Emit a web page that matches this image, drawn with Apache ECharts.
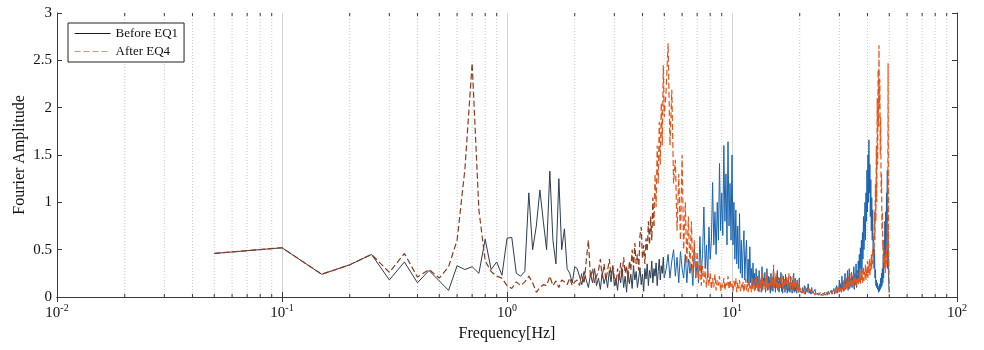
<!DOCTYPE html>
<html>
<head>
<meta charset="utf-8">
<script src="https://cdn.jsdelivr.net/npm/echarts@6/dist/echarts.min.js"></script>
<style>
  html, body { margin: 0; padding: 0; background: #fff; }
  #chart { width: 984px; height: 350px; }
</style>
</head>
<body>
<div id="chart"></div>
<script>
// Fourier amplitude spectra, before EQ1 and after EQ4.
// Frequency grid: 0.05 Hz steps up to 5 Hz, 0.1 Hz to 20 Hz, 0.2 Hz to 50 Hz.
const freqLow = [];
for (let i = 1; i <= 100; i++) freqLow.push(+(0.05 * i).toFixed(2));
const freqMid = [];
for (let i = 51; i <= 200; i++) freqMid.push(+(0.1 * i).toFixed(1));
const freqHigh = [];
for (let i = 101; i <= 250; i++) freqHigh.push(+(0.2 * i).toFixed(1));

// Before EQ1 amplitudes
const beforeLow = [
  0.46, 0.52, 0.24, 0.34, 0.45, 0.18, 0.37, 0.15, 0.28, 0.17,
  0.07, 0.33, 0.29, 0.32, 0.25, 0.61, 0.29, 0.37, 0.23, 0.62,
  0.63, 0.25, 0.22, 0.27, 1.1, 0.5, 0.75, 1.13, 0.8, 0.5,
  1.33, 0.6, 0.35, 1.25, 0.5, 0.72, 0.3, 0.25, 0.15, 0.32,
  0.3, 0.22, 0.13, 0.27, 0.18, 0.1, 0.24, 0.15, 0.3, 0.12,
  0.2, 0.08, 0.26, 0.14, 0.22, 0.1, 0.28, 0.16, 0.33, 0.12,
  0.2, 0.07, 0.25, 0.15, 0.3, 0.1, 0.22, 0.05, 0.28, 0.14,
  0.24, 0.09, 0.32, 0.18, 0.27, 0.1, 0.2, 0.31, 0.13, 0.24,
  0.06, 0.3, 0.19, 0.35, 0.12, 0.28, 0.2, 0.38, 0.15, 0.3,
  0.22, 0.36, 0.12, 0.27, 0.4, 0.18, 0.33, 0.25, 0.42, 0.2
];
const beforeMid = [
  0.3, 0.45, 0.2, 0.38, 0.5, 0.22, 0.42, 0.15, 0.48, 0.3,
  0.2, 0.45, 0.15, 0.4, 0.25, 0.35, 0.12, 0.53, 0.2, 0.38,
  0.15, 0.64, 0.25, 0.45, 0.95, 0.3, 0.55, 0.2, 0.74, 0.4,
  0.6, 1.21, 0.55, 0.9, 0.45, 1.0, 0.6, 1.41, 0.7, 1.1,
  0.65, 1.6, 0.8, 1.3, 0.55, 1.64, 0.75, 1.2, 0.6, 1.5,
  0.55, 1.0, 0.4, 0.92, 0.35, 0.75, 0.3, 0.88, 0.25, 0.6,
  0.2, 0.5, 0.7, 0.18, 0.45, 0.6, 0.15, 0.4, 0.12, 0.53,
  0.15, 0.3, 0.1, 0.36, 0.12, 0.25, 0.08, 0.3, 0.1, 0.22,
  0.06, 0.28, 0.1, 0.18, 0.05, 0.32, 0.08, 0.2, 0.12, 0.26,
  0.05, 0.15, 0.3, 0.07, 0.22, 0.1, 0.18, 0.04, 0.25, 0.09,
  0.2, 0.06, 0.3, 0.1, 0.16, 0.05, 0.22, 0.12, 0.28, 0.07,
  0.17, 0.05, 0.2, 0.1, 0.26, 0.06, 0.14, 0.04, 0.22, 0.09,
  0.16, 0.05, 0.24, 0.08, 0.18, 0.04, 0.12, 0.2, 0.06, 0.15,
  0.05, 0.22, 0.08, 0.14, 0.04, 0.18, 0.07, 0.25, 0.05, 0.12,
  0.2, 0.06, 0.15, 0.04, 0.18, 0.08, 0.13, 0.05, 0.2, 0.07
];
const beforeHigh = [
  0.08, 0.04, 0.1, 0.05, 0.12, 0.03, 0.09, 0.05, 0.14, 0.04,
  0.07, 0.03, 0.1, 0.04, 0.06, 0.02, 0.08, 0.03, 0.05, 0.02,
  0.04, 0.02, 0.05, 0.02, 0.03, 0.01, 0.04, 0.02, 0.05, 0.02,
  0.03, 0.05, 0.02, 0.06, 0.03, 0.04, 0.02, 0.07, 0.03, 0.05,
  0.04, 0.09, 0.03, 0.07, 0.05, 0.12, 0.04, 0.1, 0.06, 0.18,
  0.07, 0.14, 0.05, 0.22, 0.09, 0.16, 0.06, 0.13, 0.25, 0.08,
  0.18, 0.1, 0.28, 0.07, 0.15, 0.3, 0.09, 0.2, 0.12, 0.26,
  0.1, 0.22, 0.14, 0.32, 0.08, 0.25, 0.13, 0.35, 0.1, 0.28,
  0.15, 0.38, 0.2, 0.45, 0.18, 0.52, 0.3, 0.6, 0.25, 0.68,
  0.4, 0.85, 0.5, 0.75, 1.0, 0.6, 1.1, 0.8, 1.34, 0.9,
  1.5, 1.0, 1.66, 1.1, 1.4, 0.85, 1.24, 0.7, 1.05, 0.6,
  0.92, 0.45, 0.64, 0.3, 0.5, 0.2, 0.29, 0.12, 0.18, 0.1,
  0.15, 0.08, 0.12, 0.05, 0.1, 0.06, 0.14, 0.08, 0.2, 0.1,
  0.25, 0.12, 0.3, 0.15, 0.45, 0.2, 0.6, 0.35, 0.8, 0.4,
  0.9, 0.5, 1.1, 0.6, 1.34, 0.3, 0.7, 0.2, 0.1, 0.05
];

// After EQ4 amplitudes
const afterLow = [
  0.46, 0.52, 0.24, 0.34, 0.45, 0.26, 0.46, 0.21, 0.29, 0.2,
  0.32, 0.6, 1.35, 2.47, 0.92, 0.38, 0.27, 0.22, 0.2, 0.12,
  0.09, 0.16, 0.12, 0.16, 0.22, 0.15, 0.05, 0.1, 0.13, 0.12,
  0.22, 0.12, 0.17, 0.1, 0.18, 0.16, 0.13, 0.2, 0.12, 0.16,
  0.18, 0.12, 0.25, 0.14, 0.38, 0.6, 0.2, 0.3, 0.15, 0.22,
  0.28, 0.4, 0.2, 0.35, 0.18, 0.28, 0.4, 0.22, 0.33, 0.2,
  0.12, 0.3, 0.18, 0.36, 0.22, 0.42, 0.25, 0.33, 0.16, 0.38,
  0.28, 0.5, 0.3, 0.57, 0.35, 0.45, 0.28, 0.65, 0.74, 0.4,
  0.55, 0.35, 0.62, 0.48, 0.8, 0.55, 0.85, 0.6, 1.05, 0.75,
  1.3, 0.95, 1.6, 1.2, 1.85, 1.4, 2.05, 1.6, 2.45, 1.9
];
const afterMid = [
  2.2, 2.68, 1.6, 2.19, 1.2, 1.45, 0.7, 1.3, 0.6, 1.5,
  0.5, 1.0, 0.35, 0.85, 0.3, 0.8, 0.25, 0.6, 0.2, 0.48,
  0.18, 0.4, 0.12, 0.33, 0.15, 0.28, 0.1, 0.3, 0.12, 0.25,
  0.08, 0.2, 0.1, 0.24, 0.07, 0.18, 0.12, 0.22, 0.06, 0.15,
  0.1, 0.2, 0.07, 0.16, 0.12, 0.22, 0.08, 0.18, 0.1, 0.14,
  0.06, 0.17, 0.1, 0.2, 0.05, 0.15, 0.09, 0.18, 0.06, 0.13,
  0.08, 0.16, 0.05, 0.12, 0.19, 0.07, 0.14, 0.05, 0.17, 0.09,
  0.13, 0.05, 0.2, 0.08, 0.15, 0.06, 0.18, 0.1, 0.22, 0.07,
  0.15, 0.05, 0.22, 0.1, 0.18, 0.06, 0.25, 0.12, 0.17, 0.08,
  0.2, 0.1, 0.27, 0.09, 0.16, 0.06, 0.21, 0.12, 0.18, 0.07,
  0.22, 0.11, 0.34, 0.09, 0.2, 0.13, 0.25, 0.08, 0.17, 0.12,
  0.21, 0.07, 0.16, 0.1, 0.19, 0.13, 0.24, 0.08, 0.15, 0.11,
  0.2, 0.07, 0.17, 0.12, 0.22, 0.09, 0.18, 0.14, 0.26, 0.1,
  0.16, 0.08, 0.21, 0.12, 0.17, 0.07, 0.23, 0.11, 0.15, 0.09,
  0.19, 0.1, 0.14, 0.06, 0.18, 0.09, 0.12, 0.05, 0.15, 0.07
];
const afterHigh = [
  0.06, 0.1, 0.04, 0.08, 0.03, 0.11, 0.05, 0.07, 0.04, 0.09,
  0.05, 0.08, 0.03, 0.06, 0.04, 0.07, 0.02, 0.05, 0.03, 0.06,
  0.02, 0.04, 0.03, 0.05, 0.02, 0.03, 0.04, 0.02, 0.05, 0.03,
  0.04, 0.02, 0.05, 0.03, 0.06, 0.03, 0.05, 0.04, 0.07, 0.03,
  0.06, 0.04, 0.08, 0.05, 0.1, 0.04, 0.09, 0.06, 0.12, 0.05,
  0.1, 0.07, 0.15, 0.06, 0.12, 0.09, 0.18, 0.07, 0.14, 0.1,
  0.2, 0.08, 0.16, 0.11, 0.22, 0.09, 0.17, 0.13, 0.25, 0.1,
  0.18, 0.12, 0.24, 0.09, 0.2, 0.14, 0.27, 0.11, 0.19, 0.15,
  0.26, 0.12, 0.22, 0.16, 0.3, 0.13, 0.24, 0.18, 0.28, 0.15,
  0.22, 0.32, 0.17, 0.27, 0.2, 0.35, 0.18, 0.3, 0.22, 0.38,
  0.2, 0.33, 0.25, 0.4, 0.22, 0.36, 0.28, 0.45, 0.3, 0.42,
  0.5, 0.35, 0.64, 0.45, 0.9, 0.6, 1.2, 0.8, 1.6, 1.0,
  2.1, 1.4, 2.4, 1.8, 2.66, 2.0, 2.3, 1.5, 1.9, 1.1,
  1.3, 0.7, 0.9, 0.5, 0.6, 0.35, 0.5, 0.3, 0.45, 0.25,
  0.4, 0.3, 0.55, 0.35, 0.8, 0.5, 2.47, 0.6, 0.3, 0.05
];

// Minor (2..9 per decade) grid positions on the frequency axis
const minorTicks = [
  0.02, 0.03, 0.04, 0.05, 0.06, 0.07, 0.08, 0.09,
  0.2, 0.3, 0.4, 0.5, 0.6, 0.7, 0.8, 0.9,
  2, 3, 4, 5, 6, 7, 8, 9,
  20, 30, 40, 50, 60, 70, 80, 90
];

const seriesNames = ['Before EQ1', 'After EQ4'];

const freq = freqLow.concat(freqMid, freqHigh);
const before = beforeLow.concat(beforeMid, beforeHigh);
const after = afterLow.concat(afterMid, afterHigh);
const pairs = (vals) => freq.map((f, i) => [f, vals[i]]);
const beforePts = pairs(before);
const afterPts = pairs(after);

// Split each trace where the spectrum becomes dense, so the dense part gets the brighter tone.
const beforeSplit = freq.indexOf(5.0);
const afterSplit = freq.indexOf(4.5);

const serif = "'Liberation Serif', 'Times New Roman', serif";
const axisColor = '#3a3a3a';

function minorGrid(params, api) {
  const x = api.coord([api.value(0), 0])[0];
  const cs = params.coordSys;
  const top = cs.y, bottom = cs.y + cs.height;
  return {
    type: 'group',
    children: [
      { type: 'line', shape: { x1: x, y1: top, x2: x, y2: bottom },
        style: { stroke: '#c8c8c8', lineWidth: 1, lineDash: [1, 2] } },
      { type: 'line', shape: { x1: x, y1: bottom, x2: x, y2: bottom - 3 },
        style: { stroke: axisColor, lineWidth: 1 } },
      { type: 'line', shape: { x1: x, y1: top, x2: x, y2: top + 3 },
        style: { stroke: axisColor, lineWidth: 1 } }
    ]
  };
}

const chart = echarts.init(document.getElementById('chart'), null, { renderer: 'canvas' });

const lineBase = { type: 'line', showSymbol: false, symbol: 'none', animation: false, silent: true };

chart.setOption({
  animation: false,
  backgroundColor: '#ffffff',
  grid: { left: 57, right: 27, top: 13, bottom: 53 },
  legend: {
    orient: 'vertical',
    left: 68, top: 23,
    padding: [4, 6, 4, 6],
    itemWidth: 36, itemHeight: 12, itemGap: 5,
    itemStyle: { opacity: 0 },
    borderColor: '#222', borderWidth: 1,
    backgroundColor: '#fff',
    textStyle: { fontFamily: serif, fontSize: 13, color: '#111' },
    data: [
      { name: seriesNames[0], lineStyle: { color: '#1c1c1c', width: 1 } },
      { name: seriesNames[1], lineStyle: { color: '#c99a6a', width: 1.2 } }
    ]
  },
  xAxis: [
    {
      type: 'log', logBase: 10, min: 0.01, max: 100,
      name: 'Frequency[Hz]', nameLocation: 'middle', nameGap: 29, nameMoveOverlap: false,
      nameTextStyle: { fontFamily: serif, fontSize: 16, color: '#111' },
      axisLine: { lineStyle: { color: axisColor, width: 1 } },
      axisTick: { inside: true, length: 5, lineStyle: { color: axisColor } },
      axisLabel: {
        margin: 6,
        formatter: (v) => '{b|10}{s|' + Math.round(Math.log10(v)) + '}',
        rich: {
          b: { fontFamily: serif, fontSize: 15, color: '#111' },
          s: { fontFamily: serif, fontSize: 10, color: '#111', padding: [0, 0, 10, 0] }
        }
      },
      splitLine: { show: true, lineStyle: { color: '#d2d2d2', width: 1 } }
    },
    {
      type: 'log', logBase: 10, min: 0.01, max: 100, position: 'top',
      axisLine: { lineStyle: { color: axisColor, width: 1 } },
      axisTick: { inside: true, length: 5, lineStyle: { color: axisColor } },
      axisLabel: { show: false },
      splitLine: { show: false }
    }
  ],
  yAxis: [
    {
      type: 'value', min: 0, max: 3, interval: 0.5,
      name: 'Fourier Amplitude', nameLocation: 'middle', nameGap: 29, nameMoveOverlap: false,
      nameTextStyle: { fontFamily: serif, fontSize: 16, color: '#111' },
      axisLine: { show: true, lineStyle: { color: axisColor, width: 1 } },
      axisTick: { show: true, inside: true, length: 5, lineStyle: { color: axisColor } },
      axisLabel: { fontFamily: serif, fontSize: 15, color: '#111', margin: 5 },
      splitLine: { show: false }
    },
    {
      type: 'value', min: 0, max: 3, interval: 0.5, position: 'right',
      axisLine: { show: true, lineStyle: { color: axisColor, width: 1 } },
      axisTick: { show: true, inside: true, length: 5, lineStyle: { color: axisColor } },
      axisLabel: { show: false },
      splitLine: { show: false }
    }
  ],
  series: [
    {
      type: 'custom', name: 'minor', silent: true, z: 1,
      renderItem: minorGrid,
      data: minorTicks.map((v) => [v, 0]),
      encode: { x: 0, y: 1 }
    },
    Object.assign({}, lineBase, {
      name: seriesNames[0], z: 3,
      data: beforePts.slice(0, beforeSplit + 1),
      itemStyle: { color: '#222' },
      lineStyle: { color: '#2b3d52', width: 1 }
    }),
    Object.assign({}, lineBase, {
      name: seriesNames[0], z: 3,
      data: beforePts.slice(beforeSplit),
      itemStyle: { color: '#222' },
      lineStyle: { color: '#1a64b0', width: 1 }
    }),
    Object.assign({}, lineBase, {
      name: seriesNames[1], z: 4,
      data: afterPts.slice(0, afterSplit + 1),
      itemStyle: { color: '#c99a6a' },
      lineStyle: { color: '#8e3b1c', width: 1.2, type: [6, 3] }
    }),
    Object.assign({}, lineBase, {
      name: seriesNames[1], z: 4,
      data: afterPts.slice(afterSplit),
      itemStyle: { color: '#c99a6a' },
      lineStyle: { color: '#e2561b', width: 1.2, type: [6, 3] }
    })
  ]
});
</script>
</body>
</html>
